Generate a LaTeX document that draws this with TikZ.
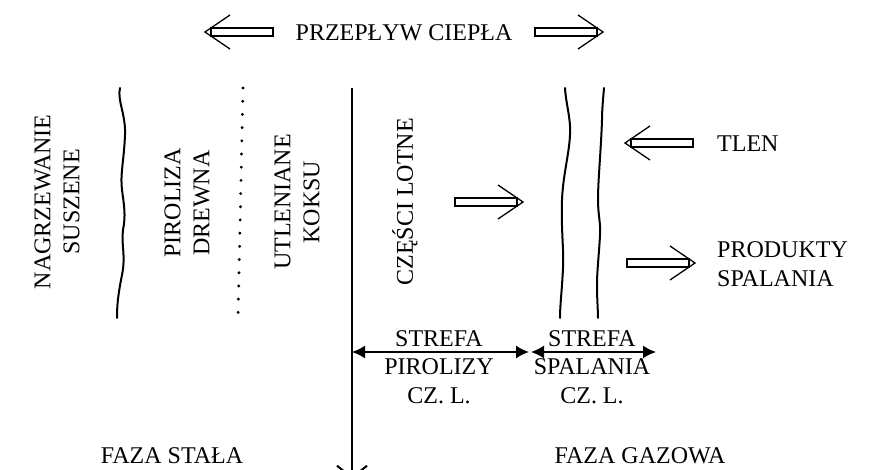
\documentclass[tikz,border=0pt]{standalone}
\usepackage{fontspec}
\setmainfont{Liberation Serif}
\usetikzlibrary{arrows.meta}
\tikzset{
  lbl/.style={inner sep=0pt, font=\fontsize{24}{29}\selectfont, align=center},
  rlbl/.style={lbl, rotate=90},
  bline/.style={line width=2pt, line cap=round},
  harrow/.pic={
    \draw[line width=1.3pt] (0,-4) rectangle (62,4);
    \draw[line width=1.3pt] (43,-17) -- (68,0) -- (43,17);
  },
  zone/.style={line width=1.5pt, {Latex[length=13pt,width=13pt]}-{Latex[length=13pt,width=13pt]}}
}
\begin{document}
\begin{tikzpicture}[x=1pt, y=-1pt]
\useasboundingbox (0,0) rectangle (873,470);

% top
\node[lbl] (flow) at (404,33) {PRZEPŁYW CIEPŁA};
\pic[rotate=180] at (273,32) {harrow};
\pic at (535,32) {harrow};

% wavy line 1
\coordinate (w1t) at (120,88);
\coordinate (w1b) at (117,318);
\draw[bline] (w1t) .. controls (117,100) and (126,115) .. (125,135)
  .. controls (124,160) and (120,175) .. (122,190)
  .. controls (124,205) and (126,215) .. (123,230)
  .. controls (121,245) and (126,255) .. (122,275)
  .. controls (118,295) and (117,305) .. (w1b);

% dotted line
\coordinate (dt) at (243,88);
\coordinate (db) at (238,318);
\draw[line width=3.2pt, line cap=round, dash pattern=on 0pt off 13.2pt] (dt) -- (db);

% main vertical line
\coordinate (mt) at (352,88);
\coordinate (mb) at (352,479);
\draw[line width=2pt, -{Straight Barb[length=12pt,width=30pt]}] (mt) -- (mb);

% right wavy lines
\coordinate (r1t) at (565,88);
\coordinate (r1b) at (560,318);
\draw[bline] (r1t) .. controls (566,105) and (571,118) .. (570,135)
  .. controls (569,155) and (563,175) .. (562,200)
  .. controls (561,230) and (564,250) .. (563,268)
  .. controls (562,290) and (560,305) .. (r1b);
\coordinate (r2t) at (604,88);
\coordinate (r2b) at (598,318);
\draw[bline] (r2t) .. controls (603,100) and (602,110) .. (602,120)
  .. controls (601,150) and (598,180) .. (598,200)
  .. controls (598,215) and (601,225) .. (600,235)
  .. controls (599,255) and (597,270) .. (597,285)
  .. controls (597,300) and (598,310) .. (r2b);

% rotated labels
\node[rlbl] (nag) at (57,202) {NAGRZEWANIE\\SUSZENE};
\node[rlbl] (pir) at (187,203) {PIROLIZA\\DREWNA};
\node[rlbl] (utl) at (297,202) {UTLENIANE\\KOKSU};
\node[rlbl] (czl) at (405,202) {CZĘŚCI LOTNE};

% middle arrows
\pic at (455,202) {harrow};
\pic[rotate=180] at (693,143) {harrow};
\pic at (627,263) {harrow};
\node[lbl, anchor=west] (tlen) at (717,144) {TLEN};
\node[lbl, anchor=west, align=left] (prod) at (717,264) {PRODUKTY\\SPALANIA};

% zones
\coordinate (z1a) at (352,352);
\coordinate (z1b) at (529,352);
\coordinate (z2a) at (531,352);
\coordinate (z2b) at (656,352);
\draw[zone] (z1a) -- (z1b);
\draw[zone] (z2a) -- (z2b);
\node[lbl, font=\fontsize{24}{28.5}\selectfont] (sp) at (439,367) {STREFA\\PIROLIZY\\CZ. L.};
\node[lbl, font=\fontsize{24}{28.5}\selectfont] (ss) at (592,367) {STREFA\\SPALANIA\\CZ. L.};

% phases
\node[lbl] (fs) at (172,456) {FAZA STAŁA};
\node[lbl] (fg) at (640,456) {FAZA GAZOWA};
\end{tikzpicture}
\end{document}
